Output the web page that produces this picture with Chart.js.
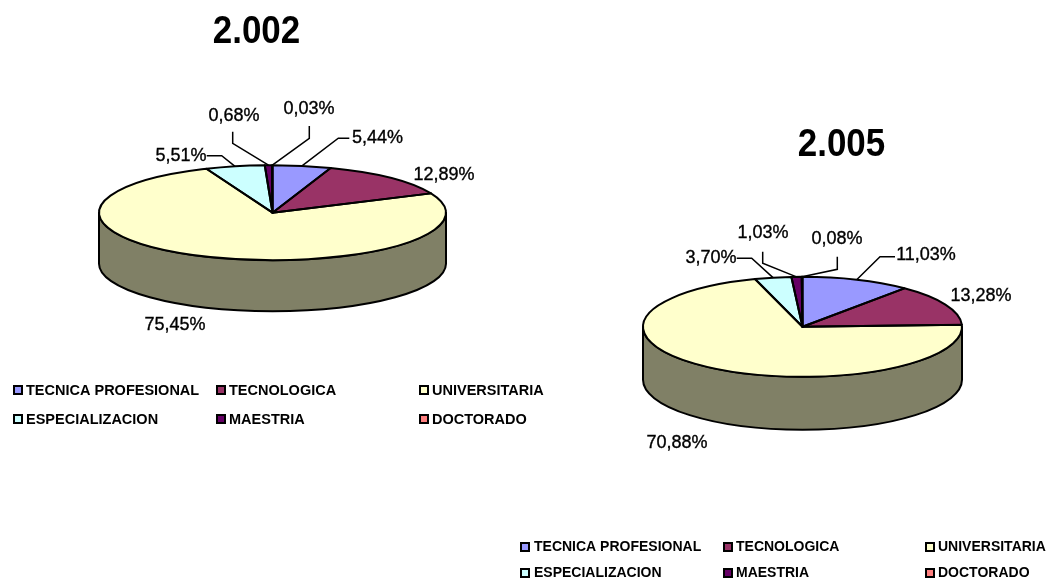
<!DOCTYPE html>
<html>
<head>
<meta charset="utf-8">
<script src="https://cdn.jsdelivr.net/npm/chart.js@4"></script>
<style>
html,body{margin:0;padding:0;background:#fff;width:1050px;height:581px;overflow:hidden}
canvas{position:absolute;left:0;top:0;filter:blur(0.5px)}
</style>
</head>
<body>
<canvas id="c1" width="1050" height="581"></canvas>
<canvas id="c2" width="1050" height="581"></canvas>
<script>
const categories = ['TECNICA PROFESIONAL','TECNOLOGICA','UNIVERSITARIA','ESPECIALIZACION','MAESTRIA','DOCTORADO'];
const values2002 = [5.44, 12.89, 75.45, 5.51, 0.68, 0.03];
const values2005 = [11.03, 13.28, 70.88, 3.70, 1.03, 0.08];
const title2002 = '2.002';
const title2005 = '2.005';
const colors = ['#9999FF','#993366','#FFFFCC','#CCFFFF','#660066','#FF8080'];
const sideColors = ['#4D4D80','#4D1A33','#808066','#668080','#330033','#804040'];

/* Layout of each pie: centre, radii, depth, and annotation placement relative to the centre */
const layout2002 = {
  cx:272.5, cy:212.7, rx:173.5, ry:47.5, depth:51,
  title:{x:256.5, y:32.5, font:'bold 38px "Liberation Sans"', sx:0.92},
  labels:[
    {dx:105,  dy:-74.5, elbow:[[65.8,-74.5],[76.8,-74.5]]},
    {dx:171.5,dy:-37.5},
    {dx:-97.5,dy:112.5},
    {dx:-91.5,dy:-56.5, elbow:[[-50.8,-57],[-65.8,-57]]},
    {dx:-38.5,dy:-96.5, elbow:[[-39.8,-69.4],[-39.8,-81]]},
    {dx:36.5, dy:-103.7,elbow:[[36.8,-74.4],[36.8,-86.7]]}
  ],
  legend:{font:'bold 14.5px "Liberation Sans"', rows:[390,419], swatchX:[14,217,420], textX:[26,229,432]}
};
const layout2005 = {
  cx:802.5, cy:326.8, rx:159.5, ry:50, depth:53,
  title:{x:841.5, y:145.5, font:'bold 38px "Liberation Sans"', sx:0.92},
  labels:[
    {dx:123.5,dy:-71.8, elbow:[[77.5,-70],[92.5,-70]]},
    {dx:178.5,dy:-30.8},
    {dx:-125.5,dy:116.2},
    {dx:-91.5,dy:-68.8, elbow:[[-50.8,-68.5],[-65.8,-68.5]]},
    {dx:-39.5,dy:-93.8, elbow:[[-39.8,-63.5],[-39.8,-75]]},
    {dx:34.5, dy:-87.8, elbow:[[34.8,-57.5],[34.8,-70]]}
  ],
  legend:{font:'bold 14px "Liberation Sans"', rows:[547,573], swatchX:[521,724,926], textX:[534,736,938]}
};

function percentText(v){ return v.toFixed(2).replace('.',',') + '%'; }

const pie3d = {
  id:'pie3d',
  beforeDatasetDraw(chart, args, o){
    const ctx = chart.ctx, L = o.layout, arcs = chart.getDatasetMeta(0).data;
    const k = L.ry / L.rx;
    ctx.save();
    ctx.lineWidth = 2; ctx.strokeStyle = '#000'; ctx.lineJoin = 'round';
    arcs.forEach((arc,i)=>{
      const p = arc.getProps(['x','y','startAngle','endAngle','outerRadius'],true);
      const a0 = Math.max(p.startAngle,0), a1 = Math.min(p.endAngle,Math.PI);
      if (a1 <= a0) return;
      ctx.beginPath();
      ctx.save();
      ctx.translate(p.x,p.y); ctx.scale(1,k);
      ctx.arc(0,0,p.outerRadius,a0,a1);
      ctx.restore();
      ctx.save();
      ctx.translate(p.x,p.y+L.depth); ctx.scale(1,k);
      ctx.arc(0,0,p.outerRadius,a1,a0,true);
      ctx.restore();
      ctx.closePath();
      ctx.fillStyle = sideColors[i];
      ctx.fill(); ctx.stroke();
    });
    ctx.restore();
    ctx.save();
    ctx.translate(L.cx,L.cy); ctx.scale(1,k); ctx.translate(-L.cx,-L.cy);
  },
  afterDatasetDraw(chart, args, o){
    const ctx = chart.ctx, L = o.layout, arcs = chart.getDatasetMeta(0).data;
    ctx.restore();
    const k = L.ry / L.rx;
    ctx.save();
    ctx.lineWidth = 2; ctx.strokeStyle = '#000'; ctx.lineJoin = 'round';
    arcs.forEach(arc=>{
      const p = arc.getProps(['x','y','startAngle','endAngle','outerRadius'],true);
      ctx.beginPath();
      ctx.save();
      ctx.translate(p.x,p.y); ctx.scale(1,k);
      ctx.moveTo(0,0);
      ctx.arc(0,0,p.outerRadius,p.startAngle,p.endAngle);
      ctx.closePath();
      ctx.restore();
      ctx.stroke();
    });
    ctx.restore();
  },
  afterDraw(chart, args, o){
    const ctx = chart.ctx, L = o.layout, arcs = chart.getDatasetMeta(0).data;
    const vals = chart.data.datasets[0].data, k = L.ry/L.rx;
    ctx.save();
    /* title */
    ctx.fillStyle = '#000'; ctx.textAlign='center'; ctx.textBaseline='middle';
    ctx.font = L.title.font;
    ctx.save();
    ctx.translate(L.title.x, L.title.y); ctx.scale(L.title.sx,1);
    ctx.fillText(o.title, 0, 0);
    ctx.restore();
    /* leaders and value labels */
    ctx.font = '18px "Liberation Sans"';
    ctx.strokeStyle='#000'; ctx.lineWidth=1.5;
    arcs.forEach((arc,i)=>{
      const spec = L.labels[i];
      if (spec.elbow){
        const p = arc.getProps(['x','y','startAngle','endAngle','outerRadius'],true);
        const m = (p.startAngle+p.endAngle)/2;
        ctx.beginPath();
        ctx.moveTo(p.x+Math.cos(m)*p.outerRadius, p.y+Math.sin(m)*p.outerRadius*k);
        spec.elbow.forEach(e=>ctx.lineTo(L.cx+e[0],L.cy+e[1]));
        ctx.stroke();
      }
      ctx.fillStyle='#000';
      ctx.save();
      ctx.lineWidth=0.35;
      ctx.fillText(percentText(vals[i]), L.cx+spec.dx, L.cy+spec.dy);
      ctx.strokeText(percentText(vals[i]), L.cx+spec.dx, L.cy+spec.dy);
      ctx.restore();
    });
    /* legend */
    ctx.textAlign='left'; ctx.font=L.legend.font;
    categories.forEach((name,i)=>{
      const col=i%3,row=Math.floor(i/3),y=L.legend.rows[row],sx=L.legend.swatchX[col];
      ctx.fillStyle=colors[i]; ctx.fillRect(sx,y-4,8,8);
      ctx.strokeStyle='#000'; ctx.lineWidth=2; ctx.strokeRect(sx,y-4,8,8);
      ctx.fillStyle='#000'; ctx.fillText(name,L.legend.textX[col],y+0.5);
    });
    ctx.restore();
  }
};

function makePie(id, values, L, title, padding){
  return new Chart(document.getElementById(id),{
    type:'pie',
    data:{labels:categories,datasets:[{data:values,backgroundColor:colors,borderWidth:0,radius:L.rx,clip:false}]},
    options:{
      responsive:false,animation:false,
      layout:{padding},
      plugins:{legend:{display:false},tooltip:{enabled:false},title:{display:false},pie3d:{layout:L,title}}
    },
    plugins:[pie3d]
  });
}
makePie('c1',values2002,layout2002,title2002,{right:1050-2*layout2002.cx,bottom:581-2*layout2002.cy});
makePie('c2',values2005,layout2005,title2005,{left:2*layout2005.cx-1050,top:2*layout2005.cy-581});
</script>
</body>
</html>
